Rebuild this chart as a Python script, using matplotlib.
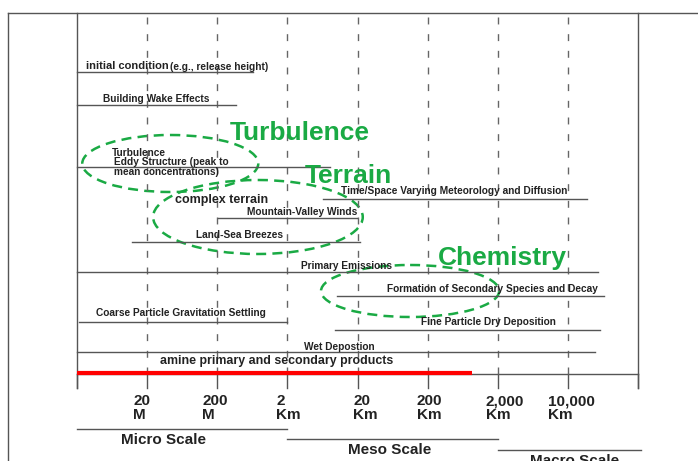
import matplotlib.pyplot as plt
from matplotlib.patches import Ellipse

# scale axis: tick index -> distance label
tick_pos = [1, 2, 3, 4, 5, 6, 7]
tick_labels = ['20\nM', '200\nM', '2\nKm', '20\nKm', '200\nKm', '2,000\nKm', '10,000\nKm']

# processes: name, start / end along the scale axis (tick index units)
processes = ['Building Wake Effects', 'Time/Space Varying Meteorology and Diffusion',
             'Mountain-Valley Winds', 'Land-Sea Breezes', 'Primary Emissions',
             'Formation of Secondary Species and Decay', 'Coarse Particle Gravitation Settling',
             'Fine Particle Dry Deposition', 'Wet Depostion']
proc_start = [0.0, 3.51, 2.01, 0.78, 0.0, 3.71, 0.03, 3.68, 0.0]
proc_end = [2.27, 7.27, 3.99, 4.04, 7.43, 7.52, 2.99, 7.46, 7.39]

initial_start, initial_end = 0.0, 2.51
turb_start, turb_end = 0.0, 3.61
amine_end = 5.63

scales = ['Micro Scale', 'Meso Scale', 'Macro Scale']
scale_start = [0, 3, 6]
scale_end = [3, 6, 8.04]

groups = ['Turbulence', 'Terrain', 'Chemistry']

# layout (rows in pixels from top, x offsets in tick units)
PX = 70.125
X0 = 77
proc_y = [105, 199, 218, 242, 272, 296, 322, 330, 352]
proc_lab_x = [0.37, 3.76, 2.42, 1.70, 3.19, 4.42, 0.27, 4.91, 3.24]
proc_lab_dy = [-6, -8, -6, -7, -6, -7, -9, -8, -5]
tick_lab_dx = [-14, -15, -11, -4, -11, -12, -20]
GREEN = '#1aaa44'
GRAY = '#555555'
INK = '#222222'
SMALL = 7.3

plt.rcParams['font.family'] = ['Liberation Sans', 'DejaVu Sans']
fig = plt.figure(figsize=(6.98, 4.61), dpi=100)
ax = fig.add_axes([0, 0, 1, 1])
ax.set_xlim(-X0 / PX, (698 - X0) / PX)
ax.set_ylim(461, 0)
ax.axis('off')

# frame
xl = (8 - X0) / PX
ax.plot([xl, xl], [13, 461], color=GRAY, lw=1)
ax.plot([xl, 10], [13, 13], color=GRAY, lw=1)
ax.plot([0, 0], [13, 388], color=GRAY, lw=1)
ax.plot([8, 8], [13, 388], color=GRAY, lw=1)
ax.plot([0, 8], [374, 374], color=GRAY, lw=1)

for t in range(0, 9):
    ax.plot([t, t], [374, 388], color=GRAY, lw=1)
for t in tick_pos:
    ax.plot([t, t], [17, 374], color='#666666', lw=1, dashes=(5, 7))

for t, lab, dx in zip(tick_pos, tick_labels, tick_lab_dx):
    ax.text(t + dx / PX, 394, lab, ha='left', va='top', multialignment='left',
            fontsize=11, fontweight='bold', color=INK, linespacing=1.0)

# processes
for name, s, e, y, lx, dy in zip(processes, proc_start, proc_end, proc_y, proc_lab_x, proc_lab_dy):
    ax.plot([s, e], [y, y], color=GRAY, lw=1)
    ax.text(lx, y + dy, name, ha='left', va='center', fontsize=SMALL, fontweight='bold', color=INK)

ax.plot([initial_start, initial_end], [72, 72], color=GRAY, lw=1)
ax.text(0.13, 66, 'initial condition', ha='left', va='center', fontsize=8, fontweight='bold', color=INK)
ax.text(1.33, 66.5, '(e.g., release height)', ha='left', va='center', fontsize=SMALL, fontweight='bold', color=INK)

ax.plot([turb_start, turb_end], [167, 167], color=GRAY, lw=1)
ax.text(0.50, 153, 'Turbulence', ha='left', va='center', fontsize=SMALL, fontweight='bold', color=INK)
ax.text(0.53, 157, 'Eddy Structure (peak to\nmean concentrations)', ha='left', va='top',
        fontsize=SMALL, fontweight='bold', color=INK, linespacing=0.95)

ax.text(1.40, 200, 'complex terrain', ha='left', va='center', fontsize=9, fontweight='bold', color=INK)
ax.text(1.18, 361, 'amine primary and secondary products', ha='left', va='center',
        fontsize=8.9, fontweight='bold', color=INK)

ax.plot([0, amine_end], [373, 373], color='red', lw=3, solid_capstyle='butt')

# scale bands
scale_lab_x = [1.23, 4.46, 7.1]
scale_line_y = [429, 439, 450]
for name, s, e, y, lx in zip(scales, scale_start, scale_end, scale_line_y, scale_lab_x):
    ax.plot([s, e], [y, y], color=GRAY, lw=1)
    ax.text(lx, y + 11, name, ha='center', va='center', fontsize=11, fontweight='bold', color=INK)

# group ellipses and names
ell_xy = [(1.33, 163.5), (2.58, 217), (4.75, 291)]
ell_w = [2.51, 2.99, 2.54]
ell_h = [57, 74, 52]
for (cx, cy), w, h in zip(ell_xy, ell_w, ell_h):
    ax.add_patch(Ellipse((cx, cy), w, h, fill=False, edgecolor=GREEN, lw=1.8, linestyle=(0, (4, 2.5))))

grp_xy = [(2.18, 133), (3.25, 176), (5.15, 258)]
for g, (gx, gy) in zip(groups, grp_xy):
    ax.text(gx, gy, g, ha='left', va='center', fontsize=19, fontweight='bold', color=GREEN)

fig.savefig('out.png', dpi=100)
